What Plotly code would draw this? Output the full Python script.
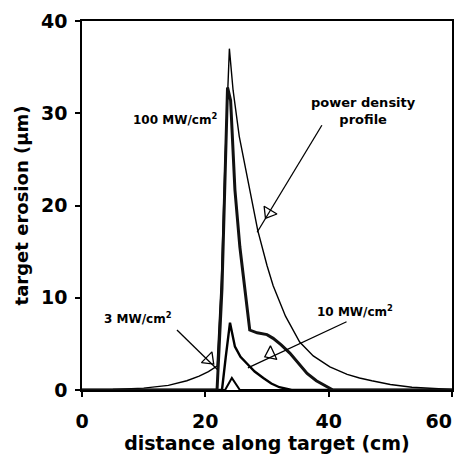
import math
import plotly.graph_objects as go

# ---- data ----
x_power = [0, 5, 10, 14, 17, 19, 20.5, 21.9, 22.6, 23.2, 23.9, 24.5, 25.5, 27.2, 28.5, 30, 31,
           33, 35.3, 37.5, 40.2, 43, 45, 47, 50, 53.5, 57, 60]
y_power = [0, 0.05, 0.2, 0.5, 1.0, 1.5, 2.0, 2.6, 12, 25, 37, 32.5, 27.5, 21.7, 17.3, 13.5, 11.3,
           8.0, 5.2, 3.7, 2.5, 1.7, 1.3, 1.0, 0.6, 0.3, 0.15, 0.05]

x_100 = [0, 21.9, 22.7, 23.2, 23.6, 24.1, 24.8, 25.6, 26.4, 27.2, 28.4, 30, 31, 32.3, 33.7, 35,
         36.5, 38, 39, 40.7, 60]
y_100 = [0, 0, 11, 22, 32.8, 31.4, 21.7, 15.5, 10.8, 6.5, 6.2, 6.0, 5.6, 4.9, 4.0, 3.0,
         1.8, 1.0, 0.6, 0, 0]

x_10 = [0, 22.7, 23.3, 24.0, 24.8, 25.7, 26.7, 28, 29.4, 30.7, 32, 34, 60]
y_10 = [0, 0, 3.5, 7.3, 4.7, 3.6, 2.9, 2.0, 1.3, 0.7, 0.3, 0, 0]

x_3 = [0, 23.2, 24.3, 25.6, 60]
y_3 = [0, 0, 1.3, 0, 0]

x_ticks = [0, 20, 40, 60]
x_tick_labels = ["0", "20", "40", "60\u00a0\u00a0\u00a0\u00a0"]
y_ticks = [0, 10, 20, 30, 40]

# labels: (text, x, y, size)
labels = [
    ("100 MW/cm<sup>2</sup>", 15.1, 29.4, 12),
    ("power density<br>profile", 45.7, 30.2, 13),
    ("10 MW/cm<sup>2</sup>", 44.2, 8.6, 12),
    ("3 MW/cm<sup>2</sup>", 9.1, 7.8, 12),
]

# pointers: tail (x,y), triangle position (x,y), tip (x,y)
pointers = [
    ((38.9, 28.7), (30.3, 19.2), (28.4, 17.1)),
    ((42.9, 7.4), (30.6, 3.9), (26.9, 2.4)),
    ((15.4, 6.5), (20.6, 3.3), (22.0, 2.2)),
]

W, H = 456, 454
ML, MR, MT, MB = 82, 4, 21, 64
X_RANGE = [0, 60]
Y_RANGE = [0, 40]
px_x = (W - ML - MR) / (X_RANGE[1] - X_RANGE[0])
px_y = (H - MT - MB) / (Y_RANGE[1] - Y_RANGE[0])

font_family = "DejaVu Sans"

fig = go.Figure()
fig.add_trace(go.Scatter(x=x_power, y=y_power, mode="lines",
                         line=dict(color="black", width=1.4)))
fig.add_trace(go.Scatter(x=x_10, y=y_10, mode="lines",
                         line=dict(color="black", width=2.4)))
fig.add_trace(go.Scatter(x=x_3, y=y_3, mode="lines",
                         line=dict(color="black", width=2)))
fig.add_trace(go.Scatter(x=x_100, y=y_100, mode="lines",
                         line=dict(color="#111", width=3)))

for tail, mid, tip in pointers:
    dx = (tip[0] - tail[0]) * px_x
    dy = -(tip[1] - tail[1]) * px_y  # screen y grows downward
    bearing = math.degrees(math.atan2(dx, -dy))  # clockwise from north
    fig.add_trace(go.Scatter(
        x=[tail[0], tip[0]], y=[tail[1], tip[1]], mode="lines",
        line=dict(color="black", width=1.3)))
    fig.add_trace(go.Scatter(
        x=[mid[0]], y=[mid[1]], mode="markers",
        marker=dict(symbol="triangle-up-open", size=13, angle=bearing,
                    color="black", line=dict(color="black", width=1.3)),
    ))

for text, x, y, size in labels:
    fig.add_annotation(x=x, y=y, text="<b>" + text + "</b>", showarrow=False,
                       font=dict(family=font_family, size=size, color="black"))

axis_common = dict(showline=True, linecolor="black", linewidth=1.5, mirror=True,
                   ticks="outside", ticklen=5, tickwidth=1.5, tickcolor="black",
                   showgrid=False, zeroline=False, ticklabeloverflow="allow",
                   tickfont=dict(family=font_family, size=19, color="black"))

fig.update_xaxes(range=X_RANGE, tickvals=x_ticks,
                 ticktext=["<b>%s</b>" % t for t in x_tick_labels],
                 title=dict(text="<b>distance along target (cm)</b>", standoff=2,
                            font=dict(family=font_family, size=19, color="black")),
                 ticklabelstandoff=8, **axis_common)
fig.update_yaxes(range=Y_RANGE, tickvals=y_ticks,
                 ticktext=["<b>%d</b>" % v for v in y_ticks],
                 title=dict(text="<b>target erosion (\u00b5m)</b>", standoff=8,
                            font=dict(family=font_family, size=18, color="black")),
                 ticklabelstandoff=4, **axis_common)

fig.update_layout(width=W, height=H, showlegend=False,
                  margin=dict(l=ML, r=MR, t=MT, b=MB, autoexpand=False),
                  plot_bgcolor="white", paper_bgcolor="white")

fig.write_html("out.html")
